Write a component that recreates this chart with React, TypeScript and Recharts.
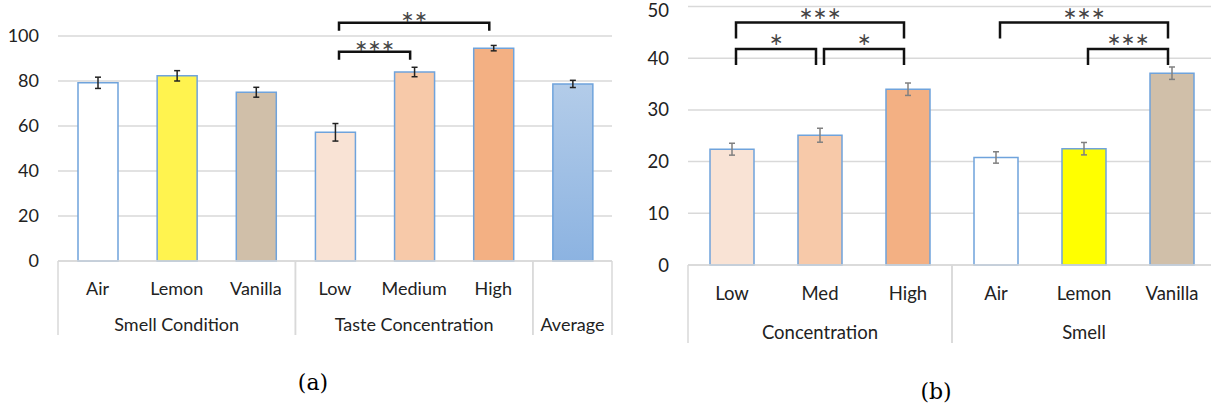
import { BarChart, Bar, Cell, XAxis, YAxis, CartesianGrid, ErrorBar, ReferenceLine } from 'recharts';

// (a) overall ratings
const catsA = ['Air', 'Lemon', 'Vanilla', 'Low', 'Medium', 'High', 'Average'];
const tickLabelsA = ['Air', 'Lemon', 'Vanilla', 'Low', 'Medium', 'High', ''];
const groupsA = ['Smell Condition', 'Smell Condition', 'Smell Condition', 'Taste Concentration', 'Taste Concentration', 'Taste Concentration', 'Average'];
const valuesA = [79.2, 82.3, 75.0, 57.2, 84.0, 94.6, 78.7];
const errorsA = [2.5, 2.3, 2.2, 3.9, 2.1, 1.2, 1.6];
const ticksA = [0, 20, 40, 60, 80, 100];
const fillsA = ['#ffffff', '#fff34f', '#d0bfa9', '#f9e3d5', '#f7c9a9', '#f3b083', 'url(#avgGrad)'];
const bracketsA = [
  { from: 'Low', to: 'High', level: 105.9, label: '∗∗' },
  { from: 'Low', to: 'Medium', level: 93.0, label: '∗∗∗' },
];

// (b) intensity ratings
const catsB = ['Low', 'Med', 'High', 'Air', 'Lemon', 'Vanilla'];
const tickLabelsB = ['Low', 'Med', 'High', 'Air', 'Lemon', 'Vanilla'];
const groupsB = ['Concentration', 'Concentration', 'Concentration', 'Smell', 'Smell', 'Smell'];
const valuesB = [22.4, 25.1, 34.0, 20.8, 22.5, 37.1];
const errorsB = [1.15, 1.35, 1.2, 1.1, 1.2, 1.2];
const ticksB = [0, 10, 20, 30, 40, 50];
const fillsB = ['#f9e3d5', '#f7c9a9', '#f3b083', '#ffffff', '#ffff00', '#d0bfa9'];
const bracketsB = [
  { from: 'Low', to: 'High', level: 46.9, label: '∗∗∗' },
  { from: 'Low', to: 'Med', level: 41.8, label: '∗' },
  { from: 'Med', to: 'High', level: 41.8, label: '∗' },
  { from: 'Air', to: 'Vanilla', level: 46.9, label: '∗∗∗' },
  { from: 'Lemon', to: 'Vanilla', level: 41.8, label: '∗∗∗' },
];

const FONT = 'Lato, "Noto Sans", sans-serif';
const GRID = '#d9d9d9';
const BAR_EDGE = '#6fa3dc';

function GroupTick(props: any) {
  const { x, y, index, labels, groups, step, rowY, groupY, lineH, fontSize } = props;
  const g = groups[index];
  const first = groups.indexOf(g);
  const last = groups.lastIndexOf(g);
  const mid = Math.floor((first + last) / 2);
  const gx = x + ((first + last) / 2 - mid) * step;
  return (
    <g>
      <text x={x} y={y + rowY} textAnchor="middle" dominantBaseline="central" fontFamily={FONT} fontSize={fontSize} fill="#222">
        {labels[index]}
      </text>
      {index === mid && (
        <text x={gx} y={y + groupY} textAnchor="middle" dominantBaseline="central" fontFamily={FONT} fontSize={fontSize} fill="#222">
          {g}
        </text>
      )}
      {index === first && <line x1={x - step / 2} x2={x - step / 2} y1={y} y2={y + lineH} stroke={GRID} strokeWidth={1.5} />}
      {index === last && <line x1={x + step / 2} x2={x + step / 2} y1={y} y2={y + lineH} stroke={GRID} strokeWidth={1.5} />}
    </g>
  );
}

function Bracket(props: any) {
  const { x1, x2, y1, leg, inset, gap, label, fontSize } = props;
  const a = Math.min(x1, x2) + inset;
  const b = Math.max(x1, x2) - inset;
  return (
    <g>
      <path d={`M${a},${y1 + leg} L${a},${y1} L${b},${y1} L${b},${y1 + leg}`} fill="none" stroke="#111" strokeWidth={2.5} />
      <text x={(a + b) / 2} y={y1 - gap} textAnchor="middle" dominantBaseline="central" fontFamily='"DejaVu Sans", sans-serif' fontSize={fontSize} fill="#444">
        {label}
      </text>
    </g>
  );
}

const dataA = catsA.map((name, i) => ({ name, value: valuesA[i], err: errorsA[i] }));
const dataB = catsB.map((name, i) => ({ name, value: valuesB[i], err: errorsB[i] }));

export default function App() {
  const plotWA = 620 - 8 - 8 - 50;
  const plotWB = 610 - 18 - 14 - 50;
  return (
    <div style={{ position: 'absolute', left: 0, top: 0, width: 1211, height: 405, overflow: 'hidden', background: '#fff' }}>
      <div style={{ position: 'absolute', left: 0, top: 0 }}>
        <BarChart width={620} height={345} data={dataA} margin={{ top: 36, right: 8, left: 8, bottom: 4 }}>
          <defs>
            <linearGradient id="avgGrad" x1="0" y1="0" x2="0" y2="1">
              <stop offset="0%" stopColor="#b3cce9" />
              <stop offset="100%" stopColor="#8cb3e1" />
            </linearGradient>
          </defs>
          <CartesianGrid vertical={false} stroke={GRID} strokeWidth={1.5} />
          <XAxis
            dataKey="name"
            interval={0}
            height={80}
            tickLine={false}
            tickSize={0}
            tickMargin={0}
            axisLine={{ stroke: GRID, strokeWidth: 1.5 }}
            tick={(p: any) => (
              <GroupTick {...p} labels={tickLabelsA} groups={groupsA} step={plotWA / catsA.length} rowY={27} groupY={63} lineH={74} fontSize={18} />
            )}
          />
          <YAxis
            domain={[0, 100]}
            ticks={ticksA}
            width={50}
            axisLine={false}
            tickLine={false}
            tickSize={0}
            tickMargin={19}
            tick={{ fontFamily: FONT, fontSize: 18, fill: '#222' }}
          />
          <Bar dataKey="value" barSize={40} stroke={BAR_EDGE} strokeWidth={1.5} isAnimationActive={false}>
            {dataA.map((d, i) => (
              <Cell key={`a-${d.name}`} fill={fillsA[i]} />
            ))}
            <ErrorBar dataKey="err" width={3} stroke="#222" strokeWidth={1.5} direction="y" />
          </Bar>
          {bracketsA.map((b) => (
            <ReferenceLine
              key={`ba-${b.from}-${b.to}`}
              segment={[{ x: b.from, y: b.level }, { x: b.to, y: b.level }]}
              ifOverflow="visible"
              shape={(p: any) => <Bracket {...p} label={b.label} leg={8} inset={4} gap={6} fontSize={16} />}
            />
          ))}
        </BarChart>
      </div>
      <div style={{ position: 'absolute', left: 620, top: 0 }}>
        <BarChart width={610} height={352} data={dataB} margin={{ top: 6.5, right: 14, left: 18, bottom: 3 }}>
          <CartesianGrid vertical={false} stroke={GRID} strokeWidth={1.5} />
          <XAxis
            dataKey="name"
            interval={0}
            height={84}
            tickLine={false}
            tickSize={0}
            tickMargin={0}
            axisLine={{ stroke: GRID, strokeWidth: 1.5 }}
            tick={(p: any) => (
              <GroupTick {...p} labels={tickLabelsB} groups={groupsB} step={plotWB / catsB.length} rowY={28} groupY={67} lineH={78} fontSize={18.5} />
            )}
          />
          <YAxis
            domain={[0, 50]}
            ticks={ticksB}
            width={50}
            axisLine={false}
            tickLine={false}
            tickSize={0}
            tickMargin={19}
            tick={{ fontFamily: FONT, fontSize: 18.5, fill: '#222' }}
          />
          <Bar dataKey="value" barSize={44} stroke={BAR_EDGE} strokeWidth={1.5} isAnimationActive={false}>
            {dataB.map((d, i) => (
              <Cell key={`b-${d.name}`} fill={fillsB[i]} />
            ))}
            <ErrorBar dataKey="err" width={3} stroke="#808080" strokeWidth={1.5} direction="y" />
          </Bar>
          {bracketsB.map((b) => (
            <ReferenceLine
              key={`bb-${b.from}-${b.to}`}
              segment={[{ x: b.from, y: b.level }, { x: b.to, y: b.level }]}
              ifOverflow="visible"
              shape={(p: any) => <Bracket {...p} label={b.label} leg={16} inset={4} gap={10} fontSize={17} />}
            />
          ))}
        </BarChart>
      </div>
      <div style={{ position: 'absolute', left: 283, top: 368, width: 60, textAlign: 'center', fontFamily: '"DejaVu Serif", serif', fontSize: 22, lineHeight: '30px' }}>(a)</div>
      <div style={{ position: 'absolute', left: 906, top: 377, width: 60, textAlign: 'center', fontFamily: '"DejaVu Serif", serif', fontSize: 22, lineHeight: '30px' }}>(b)</div>
    </div>
  );
}
